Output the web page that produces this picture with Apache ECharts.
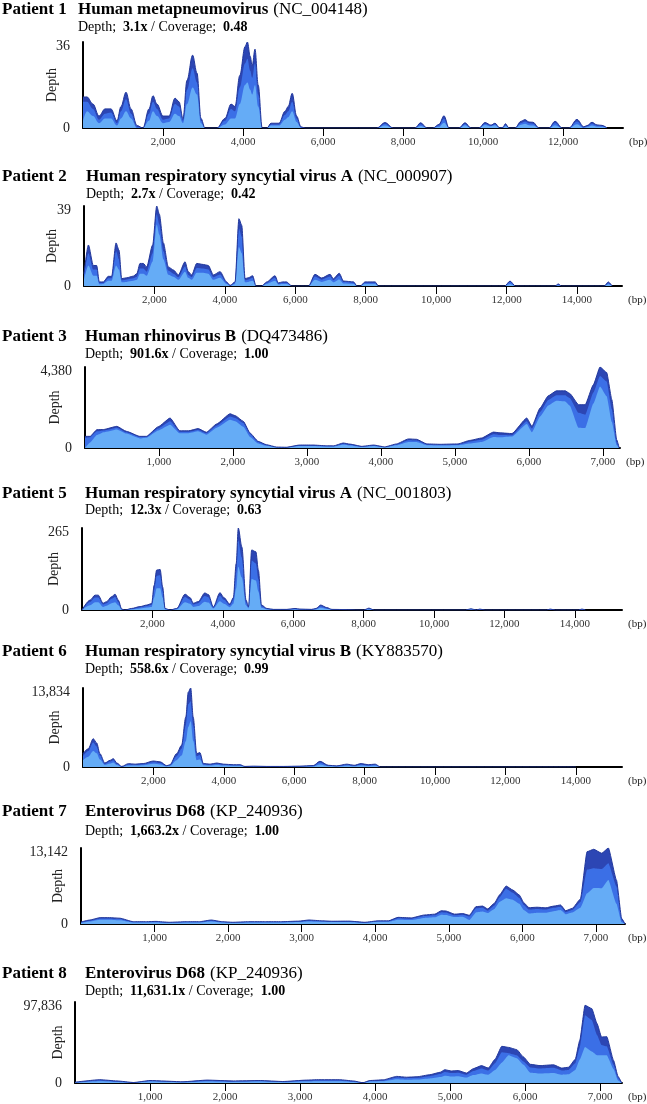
<!DOCTYPE html>
<html>
<head>
<meta charset="utf-8">
<title>Depth / Coverage</title>
<script src="https://cdn.jsdelivr.net/npm/echarts@6/dist/echarts.min.js"></script>
<style>
  html, body { margin: 0; padding: 0; background: #fff; }
  #chart { width: 647px; height: 1104px; }
</style>
</head>
<body>
<div id="chart"></div>
<script>
// 标题文字
const patientLabels = ['Patient 1', 'Patient 2', 'Patient 3', 'Patient 5', 'Patient 6', 'Patient 7', 'Patient 8']
const virusNames = ['Human metapneumovirus', 'Human respiratory syncytial virus A', 'Human rhinovirus B',
  'Human respiratory syncytial virus A', 'Human respiratory syncytial virus B', 'Enterovirus D68', 'Enterovirus D68']
const accessions = ['NC_004148', 'NC_000907', 'DQ473486', 'NC_001803', 'KY883570', 'KP_240936', 'KP_240936']
const depthValues = ['3.1x', '2.7x', '901.6x', '12.3x', '558.6x', '1,663.2x', '11,631.1x']
const coverageValues = ['0.48', '0.42', '1.00', '0.63', '0.99', '1.00', '1.00']
const yMaxValues = [36, 39, 4380, 265, 13834, 13142, 97836]

// 刻度
const ticks12k = [2000, 4000, 6000, 8000, 10000, 12000]
const ticks14k = [2000, 4000, 6000, 8000, 10000, 12000, 14000]
const ticks7k = [1000, 2000, 3000, 4000, 5000, 6000, 7000]

// Patient 1
const p1X = [0, 100, 250, 400, 550, 700, 850, 950, 1075, 1200, 1350, 1500, 1650, 1750, 1850, 2000, 2150, 2300, 2400, 2500,
  2600, 2740, 2850, 2950, 3050, 3350, 3550, 3700, 3800, 3920, 4050, 4110, 4180, 4230, 4300, 4380, 4480, 4600, 4700, 4900,
  5050, 5130, 5230, 5340, 5450, 5550,
  7350, 7550, 7750, 8300, 8440, 8600, 8750, 8900, 9025, 9150, 9400, 9550, 9700, 9900, 10050, 10200, 10300, 10420,
  10500, 10560, 10650, 10800, 10950, 11050, 11150, 11250, 11400, 11650, 11800, 11980, 12150, 12350, 12520, 12600,
  12725, 12850, 12975, 13100]
const p1Hi = [13, 13, 10, 5, 8, 8, 3, 9, 15, 8, 1, 0, 8, 13.5, 10, 5, 5, 12.5, 11, 4,
  20, 30.5, 23, 4, 0, 0, 4, 10, 9, 22, 34, 36, 30, 26, 33, 18, 0, 0, 2, 2,
  7, 9, 14.5, 5, 0.5, 0,
  0, 2.3, 0, 0, 2.2, 0, 0, 1.5, 5.1, 0, 0, 2.2, 0, 0, 2.3, 1.2, 2, 0,
  0.3, 1.8, 0, 0, 2.8, 3.5, 2.5, 2.4, 0, 0, 2.8, 0, 0, 3.6, 0.5, 1,
  2.4, 1.3, 1.1, 0]
const p1Mid = [11, 11, 8, 3.5, 6, 6.5, 2, 7, 12, 6, 0.5, 0, 6, 11, 8, 3.5, 4, 10, 9, 3,
  16, 25, 19, 3, 0, 0, 3, 8, 7, 17, 27, 29, 24, 21, 27, 14, 0, 0, 1.5, 1.5,
  5.5, 7, 11, 4, 0.3, 0,
  0, 1.8, 0, 0, 1.6, 0, 0, 1.1, 3.9, 0, 0, 1.7, 0, 0, 1.8, 1, 1.6, 0,
  0.2, 1.3, 0, 0, 2.1, 2.7, 2, 1.8, 0, 0, 2.1, 0, 0, 2.7, 0.4, 0.8,
  1.8, 1, 0.8, 0]
const p1Lo = [3, 7, 5, 2, 4, 4, 1, 4, 7, 4, 0, 0, 3, 7, 5, 2, 2.5, 6, 5, 2,
  10, 17, 14, 2, 0, 0, 1.5, 4, 4, 10, 18, 19, 16, 14, 18, 9, 0, 0, 1, 1,
  3.5, 4.5, 7, 2.5, 0, 0,
  0, 1, 0, 0, 0.8, 0, 0, 0.5, 2.2, 0, 0, 1.2, 0, 0, 1.3, 0.7, 1.1, 0,
  0, 0.8, 0, 0, 1.4, 1.8, 1.2, 1, 0, 0, 1.2, 0, 0, 1.6, 0, 0.4,
  1, 0.5, 0.4, 0]

// Patient 2
const p2X = [0, 125, 265, 360, 435, 550, 690, 785, 910, 995, 1070, 1210, 1400, 1500, 1590, 1685, 1780, 1950, 2065, 2140,
  2255, 2395, 2540, 2680, 2870, 2960, 3060, 3200, 3390, 3530, 3675, 3865, 4050, 4150, 4290, 4400, 4480, 4575, 4665, 4790,
  4885, 5050, 5190, 5425, 5520, 5640, 5755, 5900, 6380, 6560, 6750, 6990, 7080, 7250, 7370, 7660, 7750, 7850, 7980, 8270,
  8360, 11950, 12100, 12250, 13380, 13470, 13560, 14780, 14890, 15000]
const p2Hi = [6, 20, 10, 10, 2, 2, 4.7, 4.7, 21, 17.4, 3.6, 4, 4.8, 6, 11, 11, 9.3, 20, 39, 35,
  21, 9.3, 7.8, 5.4, 11.8, 7, 5.4, 11, 10.5, 10, 5.4, 7, 2, 0.3, 2, 32.8, 29.6, 3.6, 4, 5,
  0, 0, 2, 5, 1.5, 2, 2, 0, 0, 5.7, 3.9, 5.7, 3.5, 6.2, 2.4, 2, 0, 0, 2, 2,
  0, 0, 2.4, 0, 0, 1, 0, 0, 2, 0]
const p2Mid = [5, 16, 8, 8, 1.5, 1.5, 3.8, 3.8, 17, 13, 2.8, 3.2, 3.8, 4.5, 8.5, 8.5, 7, 16, 35, 30,
  17, 7.5, 6, 4.3, 9.5, 5.5, 4.3, 8.8, 8.5, 8, 4.3, 5.6, 1.6, 0.2, 1.6, 28, 24, 2.8, 3.2, 4,
  0, 0, 1.6, 4, 1.2, 1.6, 1.6, 0, 0, 4.6, 3.1, 4.6, 2.8, 5, 1.9, 1.6, 0, 0, 1.6, 1.6,
  0, 0, 1.9, 0, 0, 0.7, 0, 0, 1.5, 0]
const p2Lo = [3, 10, 5, 5, 0.8, 1, 2.5, 2.5, 10, 8, 1.8, 2, 2.5, 3, 6, 6, 5, 12, 30, 25,
  13, 5.5, 4.5, 3, 7, 4, 3, 6.5, 6.5, 6, 3, 4, 1, 0, 1, 19, 16, 1.8, 2, 2.5,
  0, 0, 1, 2.5, 0.7, 1, 1, 0, 0, 3, 2, 3, 1.8, 3.2, 1.2, 1, 0, 0, 1, 1,
  0, 0, 1, 0, 0, 0.3, 0, 0, 0.8, 0]

// Patient 3
const p3X = [0, 70, 160, 250, 430, 560, 740, 830, 990, 1150, 1280, 1400, 1530, 1640, 1780, 1960, 2030, 2140, 2230, 2340,
  2450, 2590, 2720, 2900, 3080, 3260, 3360, 3490, 3580, 3740, 3900, 4050, 4210, 4370, 4480, 4620, 4800, 5040, 5200, 5360,
  5520, 5610, 5770, 5970, 6040, 6150, 6260, 6370, 6490, 6550, 6670, 6760, 6870, 6960, 7050, 7120, 7185, 7220]
const p3Hi = [630, 630, 990, 1000, 1170, 900, 630, 630, 1150, 1620, 930, 930, 1050, 850, 1300, 1850, 1750, 1440, 810, 360,
  180, 50, 40, 160, 160, 120, 116, 270, 210, 90, 160, 60, 220, 490, 470, 220, 200, 220, 410, 540,
  860, 820, 780, 1620, 1170, 2160, 2820, 3090, 3090, 2950, 2340, 2340, 3420, 4380, 4080, 2610, 450, 0]
const p3Mid = [550, 580, 900, 950, 1100, 850, 600, 600, 1050, 1440, 880, 880, 980, 800, 1200, 1700, 1620, 1350, 750, 320,
  160, 40, 35, 140, 140, 100, 100, 230, 180, 80, 140, 50, 190, 420, 400, 190, 170, 190, 340, 440,
  740, 700, 690, 1450, 1050, 1950, 2600, 2850, 2850, 2700, 1900, 1800, 3000, 3900, 3600, 2100, 300, 0]
const p3Lo = [0, 300, 700, 850, 1000, 780, 520, 560, 950, 1260, 800, 800, 900, 720, 1100, 1530, 1450, 1150, 600, 250,
  120, 30, 25, 110, 110, 80, 80, 180, 140, 60, 110, 40, 150, 330, 320, 150, 130, 150, 250, 330,
  600, 580, 620, 1300, 850, 1700, 2300, 2550, 2520, 2300, 1100, 1080, 2400, 3330, 2800, 1400, 150, 0]

// Patient 5
const p5X = [0, 230, 370, 460, 600, 700, 840, 940, 1030, 1130, 1220, 1410, 1650, 1840, 1980, 2050, 2120, 2220, 2290, 2360,
  2500, 2690, 2930, 3070, 3160, 3300, 3490, 3590, 3730, 3920, 4030, 4200, 4300, 4380, 4440, 4540, 4660, 4730, 4820, 4940,
  5010, 5100, 5250, 5440, 5820, 6050, 6190, 6520, 6650, 6780, 6950, 7100, 8000, 8150, 8300, 10900, 11050, 11200, 11300, 11450,
  13200, 13300, 13450, 14100, 14200, 14300]
const p5Hi = [0, 32, 48, 48, 22, 27, 43, 51, 32, 3, 0, 5, 11, 16, 21, 80, 129, 131, 75, 5,
  0, 5, 51, 40, 22, 27, 55, 50, 10, 56, 40, 19, 40, 150, 265, 204, 32, 11, 194, 188,
  129, 16, 5, 2, 2, 5, 3, 2, 5, 16, 8, 2, 0, 6, 0, 0, 4, 0, 3, 0,
  0, 3, 0, 0, 3, 0]
const p5Mid = [0, 26, 40, 40, 18, 22, 36, 42, 26, 2, 0, 4, 9, 13, 17, 65, 110, 112, 62, 4,
  0, 4, 42, 33, 18, 22, 45, 41, 8, 46, 33, 15, 33, 120, 225, 170, 26, 9, 160, 150,
  100, 12, 4, 1.5, 1.5, 4, 2, 1.5, 4, 12, 6, 1.5, 0, 4, 0, 0, 3, 0, 2, 0,
  0, 2, 0, 0, 2, 0]
const p5Lo = [0, 15, 25, 25, 10, 14, 22, 25, 15, 1, 0, 2, 5, 8, 10, 40, 70, 70, 40, 2,
  0, 2, 25, 20, 10, 13, 27, 24, 5, 28, 20, 9, 20, 70, 140, 105, 15, 5, 100, 95,
  60, 7, 2, 1, 1, 2, 1, 1, 2, 7, 3, 1, 0, 2, 0, 0, 1.5, 0, 1, 0,
  0, 1, 0, 0, 1, 0]

// Patient 6
const p6X = [0, 150, 290, 390, 480, 620, 770, 860, 960, 1100, 1290, 1480, 1710, 2000, 2190, 2380, 2470, 2660, 2800, 2920,
  2990, 3060, 3130, 3230, 3320, 3420, 3610, 3800, 3990, 4270, 4460, 4600, 4840, 5220, 5690, 6160, 6540, 6730, 6970,
  7200, 7500, 7700, 7900, 8100, 8300, 8450, 14000]
const p6Hi = [2340, 3200, 4960, 4200, 2340, 700, 1170, 1460, 700, 100, 585, 500, 600, 1050, 900, 230, 400, 2340, 3800, 8750,
  13100, 13834, 8750, 2340, 2520, 600, 500, 700, 500, 400, 400, 100, 150, 100, 100, 150, 250, 1000, 300,
  200, 500, 300, 600, 400, 500, 0, 0]
const p6Mid = [1900, 2800, 4300, 3600, 2000, 550, 950, 1200, 550, 70, 450, 400, 480, 850, 720, 180, 320, 1900, 3200, 7300,
  11000, 11500, 7300, 1900, 2100, 480, 400, 560, 400, 320, 320, 70, 110, 70, 70, 110, 190, 800, 220,
  150, 380, 220, 450, 300, 380, 0, 0]
const p6Lo = [1200, 1800, 2800, 2400, 1300, 350, 600, 800, 350, 40, 280, 250, 300, 550, 450, 110, 200, 1200, 2000, 4500,
  7000, 8000, 4600, 1200, 1300, 300, 250, 350, 250, 200, 200, 40, 60, 40, 40, 60, 100, 450, 120,
  80, 220, 120, 250, 170, 220, 0, 0]

// Patient 7
const p7X = [0, 120, 260, 390, 530, 710, 890, 1020, 1200, 1430, 1610, 1770, 1920, 2060, 2280, 2510, 2730, 2960, 3100, 3280,
  3410, 3640, 3860, 4040, 4180, 4310, 4490, 4670, 4810, 4900, 4960, 5080, 5190, 5280, 5370, 5460, 5530, 5620, 5690, 5780,
  5870, 5960, 6020, 6090, 6200, 6320, 6430, 6520, 6590, 6680, 6790, 6880, 6970, 7080, 7170, 7280, 7350, 7396]
const p7Hi = [350, 690, 1100, 1100, 1000, 400, 400, 450, 300, 400, 400, 690, 400, 300, 400, 400, 400, 500, 690, 550,
  480, 500, 300, 550, 550, 1150, 1050, 1560, 1700, 2300, 2250, 1700, 1800, 1500, 3000, 3100, 2600, 3580, 5020, 6570,
  5880, 5000, 3690, 2820, 2900, 2800, 3100, 3290, 2300, 2700, 4325, 12500, 12920, 12230, 13142, 7610, 980, 0]
const p7Mid = [300, 600, 950, 950, 850, 350, 350, 380, 250, 350, 350, 600, 350, 250, 350, 350, 350, 430, 600, 480,
  420, 430, 250, 480, 480, 1000, 920, 1380, 1500, 2050, 2000, 1500, 1600, 1300, 2700, 2800, 2300, 3200, 4600, 6100,
  5400, 4500, 3300, 2500, 2600, 2500, 2800, 3000, 2050, 2400, 3800, 9400, 9640, 9500, 10500, 6500, 700, 0]
const p7Lo = [200, 450, 750, 750, 650, 250, 250, 280, 180, 250, 250, 450, 250, 180, 250, 250, 250, 330, 450, 380,
  330, 350, 180, 380, 380, 750, 700, 1050, 1150, 1600, 1550, 1200, 1250, 700, 2000, 2150, 1900, 2600, 3800, 4440,
  4200, 3500, 2400, 1800, 1950, 1950, 2200, 2400, 1700, 2000, 2800, 5300, 6230, 6200, 7610, 3500, 300, 0]

// Patient 8
const p8X = [0, 330, 560, 780, 1000, 1440, 1760, 2110, 2470, 2770, 3090, 3220, 3530, 3710, 3840, 3930, 4110, 4290, 4420, 4560,
  4730, 4870, 4930, 5020, 5110, 5220, 5310, 5420, 5510, 5600, 5690, 5780, 5890, 5980, 6070, 6200, 6380, 6490, 6580, 6670,
  6730, 6800, 6890, 6960, 7020, 7090, 7180, 7240, 7290]
const p8Hi = [1000, 4000, 2500, 600, 3000, 1500, 3500, 2500, 3000, 1800, 3500, 4000, 4000, 2500, 300, 3000, 3800, 8000, 7000, 7500,
  10000, 13000, 16000, 14500, 15000, 12000, 17300, 21000, 18000, 28600, 44300, 43000, 40300, 31400, 22600, 21000, 22000, 18000, 19000, 28600,
  51500, 93900, 89900, 71800, 55600, 56000, 27400, 8000, 0]
const p8Mid = [800, 3300, 2000, 500, 2500, 1200, 2900, 2000, 2500, 1500, 2900, 3300, 3300, 2000, 250, 2500, 3100, 6700, 5800, 6200,
  8300, 10800, 13300, 12000, 12500, 10000, 14400, 17500, 15000, 23800, 37000, 36000, 33600, 26000, 18800, 17500, 18300, 15000, 15800, 23800,
  42900, 81800, 76000, 58000, 46000, 44300, 22000, 6000, 0]
const p8Lo = [500, 2200, 1300, 300, 1700, 800, 1900, 1300, 1700, 1000, 1900, 2200, 2200, 1300, 150, 1700, 2100, 4500, 3900, 4200,
  5500, 7200, 8900, 8000, 8300, 6500, 9600, 11600, 10000, 15800, 24600, 33500, 30000, 22000, 12500, 11600, 12200, 10000, 10500, 15800,
  28500, 43500, 38000, 33500, 33500, 33500, 17000, 3000, 0]

const panels = [
  { x: p1X, hi: p1Hi, mid: p1Mid, lo: p1Lo, ticks: ticks12k },
  { x: p2X, hi: p2Hi, mid: p2Mid, lo: p2Lo, ticks: ticks14k },
  { x: p3X, hi: p3Hi, mid: p3Mid, lo: p3Lo, ticks: ticks7k },
  { x: p5X, hi: p5Hi, mid: p5Mid, lo: p5Lo, ticks: ticks14k },
  { x: p6X, hi: p6Hi, mid: p6Mid, lo: p6Lo, ticks: ticks14k },
  { x: p7X, hi: p7Hi, mid: p7Mid, lo: p7Lo, ticks: ticks7k },
  { x: p8X, hi: p8Hi, mid: p8Mid, lo: p8Lo, ticks: ticks7k }
]

// 每个面板的位置（像素）
const layout = [
  { top: 42, height: 86, left: 83, width: 540, xMax: 13500, gap: 24, titleY: 8, subY: 26, textX: 78, smooth: 0.35, bpGap: 6 },
  { top: 206, height: 80, left: 84, width: 538, xMax: 15280, gap: 25, titleY: 175, subY: 193, textX: 86, smooth: 0.25, bpGap: 6 },
  { top: 367, height: 81, left: 85, width: 535, xMax: 7230, gap: 23, titleY: 335, subY: 353, textX: 85, smooth: 0.15, bpGap: 6 },
  { top: 528, height: 82, left: 82, width: 540, xMax: 15340, gap: 21, titleY: 492, subY: 509, textX: 85, smooth: 0.3, bpGap: 6 },
  { top: 688, height: 79, left: 83, width: 539, xMax: 15310, gap: 21, titleY: 650, subY: 668, textX: 85, smooth: 0.3, bpGap: 6 },
  { top: 848, height: 76, left: 81, width: 544, xMax: 7396, gap: 16, titleY: 810, subY: 830, textX: 85, smooth: 0.15, bpGap: 3 },
  { top: 1002, height: 81, left: 75, width: 547, xMax: 7293, gap: 10, titleY: 972, subY: 990, textX: 85, smooth: 0.15, bpGap: 6 }
]

const FONT = '"Liberation Serif", "Times New Roman", serif'
const COLORS = ['#2c46b4', '#3b6fe6', '#65acf6']
const fmt = v => Number(v).toLocaleString('en-US')

const chart = echarts.init(document.getElementById('chart'), null, { renderer: 'canvas' })

const grid = []
const xAxis = []
const yAxis = []
const series = []
const title = []

panels.forEach((p, i) => {
  const L = layout[i]
  const yMax = yMaxValues[i]

  grid.push({ left: L.left, top: L.top, width: L.width, height: L.height, containLabel: false, outerBoundsMode: 'none' })

  xAxis.push({
    gridIndex: i,
    type: 'value',
    min: 0,
    max: L.xMax,
    name: '(bp)',
    nameLocation: 'end',
    nameGap: L.bpGap,
    nameMoveOverlap: false,
    nameTextStyle: { fontFamily: FONT, fontSize: 11, color: '#222', verticalAlign: 'top', padding: [9, 0, 0, 0] },
    axisLine: { show: true, onZero: false, lineStyle: { color: '#000', width: 2 } },
    axisTick: { show: true, length: 8, customValues: p.ticks, lineStyle: { color: '#000', width: 1 } },
    axisLabel: { customValues: p.ticks, margin: 9, fontFamily: FONT, fontSize: 11, color: '#333', formatter: fmt },
    splitLine: { show: false }
  })

  yAxis.push({
    gridIndex: i,
    type: 'value',
    min: 0,
    max: yMax,
    interval: yMax,
    name: 'Depth',
    nameLocation: 'middle',
    nameGap: L.gap,
    nameRotate: 90,
    nameMoveOverlap: false,
    nameTextStyle: { fontFamily: FONT, fontSize: 14, color: '#222' },
    axisLine: { show: true, onZero: false, lineStyle: { color: '#000', width: 2 } },
    axisTick: { show: false },
    axisLabel: {
      customValues: [0, yMax],
      margin: 13,
      fontFamily: FONT,
      fontSize: 14,
      color: '#222',
      formatter: v => (v === 0 ? '{z|0}' : '{t|' + fmt(v) + '}'),
      rich: {
        z: { fontFamily: FONT, fontSize: 14, color: '#222' },
        t: { fontFamily: FONT, fontSize: 14, color: '#222', padding: [8, 0, 0, 0] }
      }
    },
    splitLine: { show: false }
  })

  // 三层覆盖区域：深、中、浅
  const layers = [p.hi, p.mid, p.lo]
  layers.forEach((vals, k) => {
    series.push({
      type: 'line',
      xAxisIndex: i,
      yAxisIndex: i,
      data: p.x.map((x, j) => [x, vals[j]]),
      smooth: L.smooth,
      smoothMonotone: 'x',
      showSymbol: false,
      symbol: 'none',
      silent: true,
      lineStyle: k === 0 ? { width: 1, color: '#22389c' } : { width: 0 },
      itemStyle: { color: COLORS[k] },
      areaStyle: { color: COLORS[k], opacity: 1 },
      animation: false
    })
  })

  // 标题
  title.push({
    text: patientLabels[i],
    left: 2,
    top: L.titleY - 7,
    padding: 0,
    textStyle: { fontFamily: FONT, fontSize: 17, fontWeight: 'bold', color: '#000' }
  })
  title.push({
    text: '{b|' + virusNames[i] + '} {n|(' + accessions[i] + ')}',
    left: L.textX,
    top: L.titleY - 7,
    padding: 0,
    textStyle: {
      rich: {
        b: { fontFamily: FONT, fontSize: 17, fontWeight: 'bold', color: '#000' },
        n: { fontFamily: FONT, fontSize: 17, fontWeight: 'normal', color: '#000' }
      }
    }
  })
  title.push({
    text: '{n|Depth;  }{b|' + depthValues[i] + '}{n| / Coverage;  }{b|' + coverageValues[i] + '}',
    left: L.textX,
    top: L.subY - 6,
    padding: 0,
    textStyle: {
      rich: {
        b: { fontFamily: FONT, fontSize: 14, fontWeight: 'bold', color: '#000' },
        n: { fontFamily: FONT, fontSize: 14, fontWeight: 'normal', color: '#000' }
      }
    }
  })
})

chart.setOption({
  animation: false,
  backgroundColor: '#fff',
  title: title,
  grid: grid,
  xAxis: xAxis,
  yAxis: yAxis,
  series: series
})

window.addEventListener('resize', () => chart.resize())
</script>
</body>
</html>
